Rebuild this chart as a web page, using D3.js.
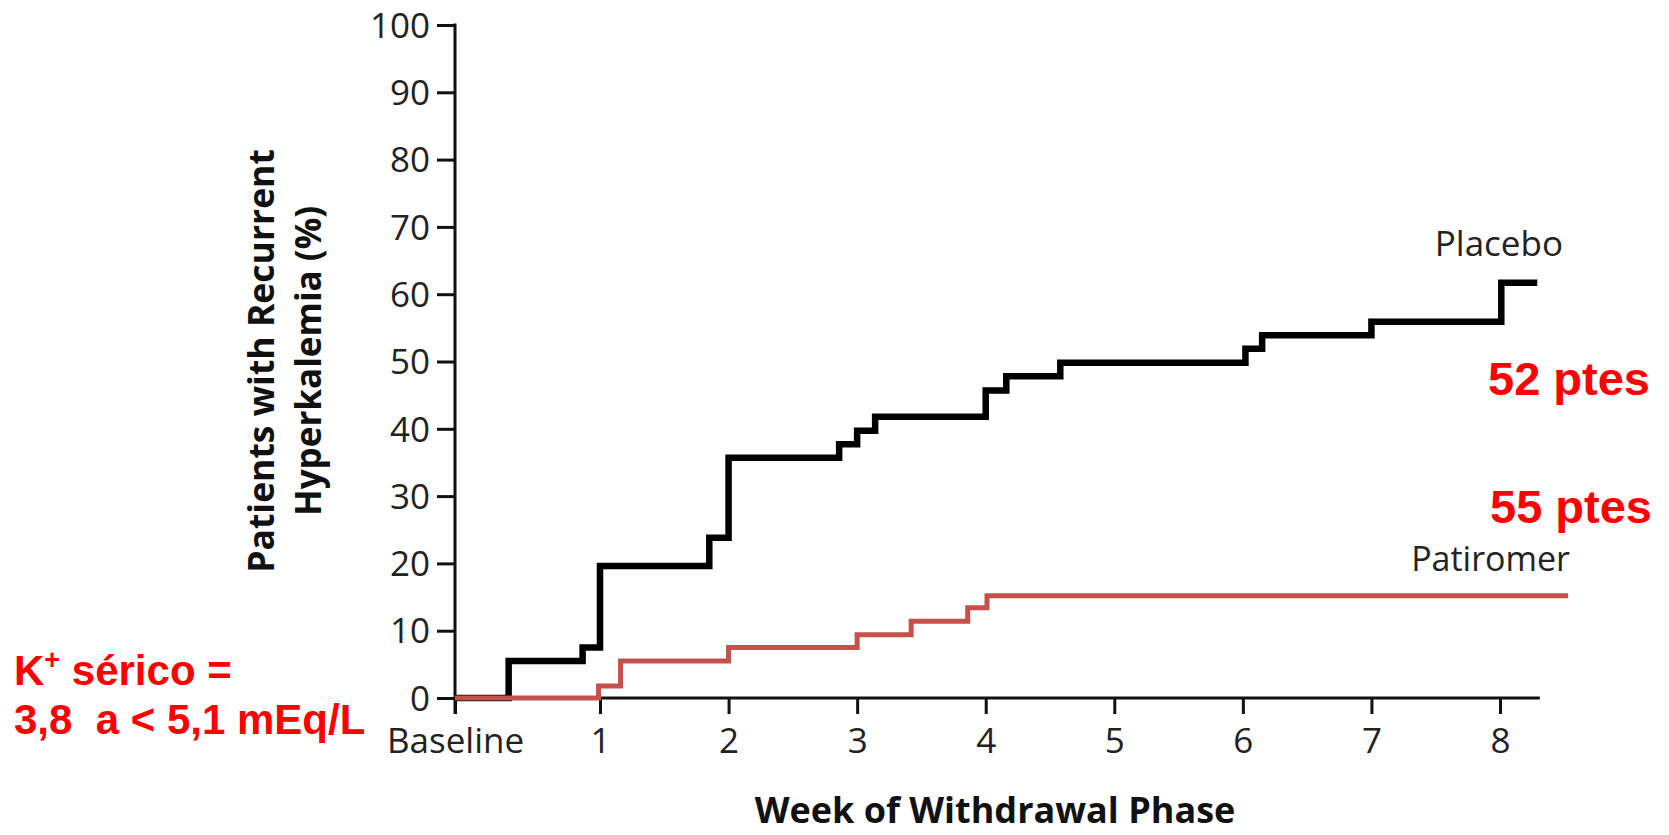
<!DOCTYPE html>
<html>
<head>
<meta charset="utf-8">
<script src="https://cdn.jsdelivr.net/npm/d3@7"></script>
<style>
  html, body { margin: 0; padding: 0; background: #fff; }
  svg { display: block; }
</style>
</head>
<body>
<svg id="chart" width="1669" height="835"></svg>
<script>
// ---- data ----
const xTickValues = [0, 1, 2, 3, 4, 5, 6, 7, 8];
const xTickLabels = ["Baseline", "1", "2", "3", "4", "5", "6", "7", "8"];
const yTickValues = [0, 10, 20, 30, 40, 50, 60, 70, 80, 90, 100];

const placeboWeeks = [0, 0.37, 0.88, 1.0, 1.85, 2.0, 2.86, 3.0, 3.14, 4.0, 4.16, 4.58, 6.02, 6.15, 7.0, 8.01, 8.29];
const placeboPct   = [0, 5.5, 7.5, 19.6, 23.8, 35.7, 37.7, 39.7, 41.8, 45.7, 47.8, 49.8, 51.9, 53.9, 55.9, 61.7, 61.7];

const patiromerWeeks = [0, 0.99, 1.16, 2.0, 3.0, 3.42, 3.86, 4.01, 8.53];
const patiromerPct   = [0, 1.8, 5.5, 7.5, 9.4, 11.4, 13.4, 15.2, 15.2];

const seriesNames = ["Placebo", "Patiromer"];
const annotations = ["52 ptes", "55 ptes"];
const noteLine1 = "sérico =";
const noteLine2 = "3,8  a < 5,1 mEq/L";
const xTitle = "Week of Withdrawal Phase";
const yTitle = ["Patients with Recurrent", "Hyperkalemia (%)"];

// ---- scales ----
const svg = d3.select("#chart");
const x = d3.scaleLinear().domain([0, 1, 8]).range([455, 600, 1500]);
const y = d3.scaleLinear().domain([0, 100]).range([698, 25]);

const tickFont = "'Open Sans', 'Liberation Sans', sans-serif";

// ---- axes ----
const yAxis = svg.append("g").attr("transform", `translate(${x(0)},0)`)
  .call(d3.axisLeft(y).tickValues(yTickValues).tickSize(18).tickPadding(7).tickFormat(d3.format("d")));
const xAxis = svg.append("g").attr("transform", `translate(0,${y(0)})`)
  .call(d3.axisBottom(x).tickValues(xTickValues).tickSize(16).tickPadding(14).tickFormat((d, i) => xTickLabels[i]));

[xAxis, yAxis].forEach(g => {
  g.selectAll("path.domain").remove();
  g.selectAll(".tick line").attr("stroke", "#111").attr("stroke-width", 3);
  g.selectAll(".tick text").attr("fill", "#222").style("font-family", tickFont).style("font-size", "35px");
});
yAxis.selectAll(".tick text").attr("dy", "0.35em");

// axis lines
svg.append("line").attr("x1", x(0)).attr("x2", x(0)).attr("y1", y(100) - 1.5).attr("y2", y(0) + 16)
  .attr("stroke", "#111").attr("stroke-width", 3);
svg.append("line").attr("x1", x(0)).attr("x2", x(8.31)).attr("y1", y(0)).attr("y2", y(0))
  .attr("stroke", "#111").attr("stroke-width", 3);

// ---- lines ----
const line = d3.line().x(d => x(d[0])).y(d => y(d[1])).curve(d3.curveStepAfter);
const placeboData = placeboWeeks.map((w, i) => [w, placeboPct[i]]);
const patiromerData = patiromerWeeks.map((w, i) => [w, patiromerPct[i]]);

svg.append("path").attr("d", line(placeboData)).attr("fill", "none")
  .attr("stroke", "#000").attr("stroke-width", 6.5).attr("stroke-linejoin", "miter").attr("stroke-linecap", "butt");
svg.append("path").attr("d", line(patiromerData)).attr("fill", "none")
  .attr("stroke", "#c4524a").attr("stroke-width", 5).attr("stroke-linejoin", "miter").attr("stroke-linecap", "butt");

// ---- series labels ----
svg.append("text").attr("x", 1563).attr("y", 256).attr("text-anchor", "end")
  .style("font-family", tickFont).style("font-size", "35px").attr("fill", "#222").text(seriesNames[0]);
svg.append("text").attr("x", 1570).attr("y", 571).attr("text-anchor", "end")
  .style("font-family", tickFont).style("font-size", "34px").attr("fill", "#222").text(seriesNames[1]);

// ---- axis titles ----
svg.append("text").attr("x", 995).attr("y", 823).attr("text-anchor", "middle")
  .style("font-family", tickFont).style("font-size", "36px").style("font-weight", "bold").attr("fill", "#111").text(xTitle);
const yt = svg.append("g").attr("transform", "translate(0,361) rotate(-90)");
yt.append("text").attr("x", 0).attr("y", 274).attr("text-anchor", "middle")
  .style("font-family", tickFont).style("font-size", "35.5px").style("font-weight", "bold").attr("fill", "#111").text(yTitle[0]);
yt.append("text").attr("x", 0).attr("y", 321).attr("text-anchor", "middle")
  .style("font-family", tickFont).style("font-size", "35px").style("font-weight", "bold").attr("fill", "#111").text(yTitle[1]);

// ---- red annotations ----
const redFont = "'Liberation Sans', Arial, sans-serif";
svg.append("text").attr("x", 1650).attr("y", 395).attr("text-anchor", "end")
  .style("font-family", redFont).style("font-size", "47px").style("font-weight", "bold").attr("fill", "#ff0000").text(annotations[0]);
svg.append("text").attr("x", 1652).attr("y", 523).attr("text-anchor", "end")
  .style("font-family", redFont).style("font-size", "47px").style("font-weight", "bold").attr("fill", "#ff0000").text(annotations[1]);

const n1 = svg.append("text").attr("x", 14).attr("y", 685)
  .style("font-family", redFont).style("font-size", "42px").style("font-weight", "bold").attr("fill", "#ff0000");
n1.append("tspan").text("K");
n1.append("tspan").attr("dy", -16).style("font-size", "27px").text("+");
n1.append("tspan").attr("dy", 16).text(" " + noteLine1);
svg.append("text").attr("x", 14).attr("y", 734).attr("xml:space", "preserve").style("white-space", "pre")
  .style("font-family", redFont).style("font-size", "42px").style("font-weight", "bold").attr("fill", "#ff0000").text(noteLine2);
</script>
</body>
</html>
